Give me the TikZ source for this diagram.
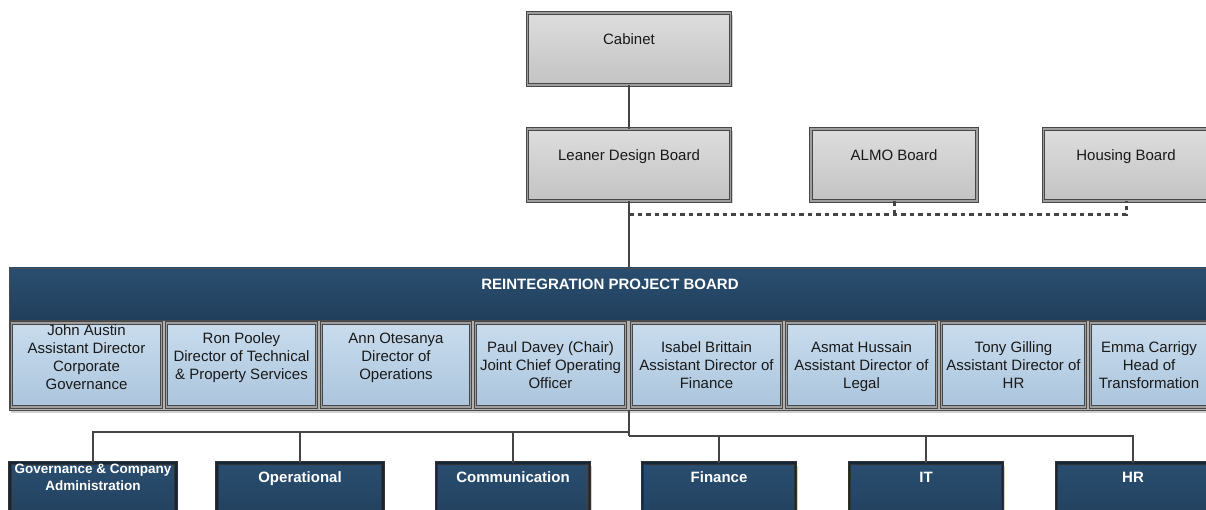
\documentclass[tikz,border=0pt]{standalone}
\usepackage{fontspec}
\setmainfont{Liberation Sans}
\usetikzlibrary{positioning,shadows}
\definecolor{navytop}{HTML}{2A4E70}
\definecolor{navybot}{HTML}{213F5B}
\definecolor{greytop}{HTML}{DDDDDD}
\definecolor{greybot}{HTML}{C3C3C3}
\definecolor{bluetop}{HTML}{C9DCED}
\definecolor{bluebot}{HTML}{ABC5DD}
\definecolor{linegrey}{HTML}{444444}

\tikzset{
  boxline/.style={draw=black!72, double=black!38, double distance=1.6pt, line width=0.9pt},
  softshadow/.style={drop shadow={shadow xshift=2pt, shadow yshift=-2.5pt, fill=black!18, opacity=1}},
  boardbox/.style={boxline, softshadow, top color=greytop, bottom color=greybot, minimum height=72pt, inner sep=0pt},
  memberbox/.style={boxline, top color=bluetop, bottom color=bluebot, minimum height=84pt, inner sep=0pt},
  teambox/.style={boxline, draw=black!80, double=navybot!60!black, softshadow, top color=navytop, bottom color=navybot, minimum height=60pt, inner sep=0pt},
  txt/.style={align=center, inner sep=0pt, text=black!90, font=\fontsize{15}{18}\selectfont,
    execute at begin node=\strut, execute at end node=\strut},
  hdr/.style={txt, text=white, font=\fontsize{15}{18}\selectfont\bfseries},
  conn/.style={draw=linegrey, line width=2pt},
  dotline/.style={draw=linegrey, line width=3pt, dash pattern=on 4.5pt off 4pt}
}

\begin{document}
\begin{tikzpicture}[x=1pt, y=-1pt]
  \useasboundingbox (0,0) rectangle (1206,510);
  \clip (0,0) rectangle (1206,510);

  % boards at the top
  \node[boardbox, minimum width=203pt] (cab) at (629,49) {};
  \node[boardbox, minimum width=203pt] (ldb) at (629,165) {};
  \node[boardbox, minimum width=166pt] (almo) at (894,165) {};
  \node[boardbox, minimum width=165pt] (housing) at (1126,165) {};
  \node[txt] (cabT) at (629,41) {Cabinet};
  \node[txt] (ldbT) at (629,157) {Leaner Design Board};
  \node[txt] (almoT) at (894,157) {ALMO Board};
  \node[txt] (housingT) at (1126,157) {Housing Board};

  \draw[conn] (cab) -- (ldb);
  \coordinate (tie) at (629,215);
  \draw[dotline] (tie) -- (tie -| housing.south) -- (housing.south);
  \draw[dotline] (almo.south) -- (almo.south |- tie);

  % project board with its members
  \node[draw=black!70, line width=0.9pt, fill=black!30, softshadow, minimum width=1202pt, minimum height=142pt, inner sep=0pt] (rpb) at (610,339) {};
  \node[draw=black!70, line width=0.9pt, top color=navytop, bottom color=navybot, minimum width=1202pt, minimum height=52pt, inner sep=0pt] (rpbhead) at (610,294) {};
  \node[hdr] (rpbT) at (610,286) {REINTEGRATION PROJECT BOARD};
  \draw[conn] (ldb) -- (ldb |- rpb.north);

  \foreach \n/\x/\w/\ty/\t in {
      john/86.5/150/360/{John Austin\\Assistant Director\\Corporate\\Governance},
      ron/241.5/150/359/{Ron Pooley\\Director of Technical\\\& Property Services},
      ann/396/149/359/{Ann Otesanya\\Director of\\Operations},
      paul/550.5/150/368/{Paul Davey (Chair)\\Joint Chief Operating\\Officer},
      isabel/706.5/150/368/{Isabel Brittain\\Assistant Director of\\Finance},
      asmat/861.5/150/368/{Asmat Hussain\\Assistant Director of\\Legal},
      tony/1013.5/144/368/{Tony Gilling\\Assistant Director of\\HR},
      emma/1149/117/368/{Emma Carrigy\\Head of\\Transformation}}
  {
    \node[memberbox, minimum width=\w pt] (\n) at (\x,365) {};
    \node[txt] (\n T) at (\x,\ty) {\t};
  }

  % work streams
  \foreach \n/\x/\w/\t in {
      oper/300/166/Operational, comm/513/153/Communication,
      fin/719/153/Finance, it/926/153/IT, hr/1133/153/HR}
  {
    \node[teambox, minimum width=\w pt] (\n) at (\x,493) {};
    \node[hdr] (\n T) at (\x,479) {\t};
  }
  \node[teambox, minimum width=166pt] (gov) at (93,493) {};
  \node[hdr, font=\fontsize{13.5}{17}\selectfont\bfseries] (govT) at (93,480) {Governance \& Company\\Administration};

  \coordinate (fork) at (629,410);
  \coordinate (busL) at (629,432);
  \coordinate (busR) at (629,436);
  \draw[conn] (fork) -- (busR);
  \foreach \n in {gov,oper,comm}
    \draw[conn] (\n.north) |- (busL);
  \foreach \n in {fin,it,hr}
    \draw[conn] (\n.north) |- (busR);
\end{tikzpicture}
\end{document}
